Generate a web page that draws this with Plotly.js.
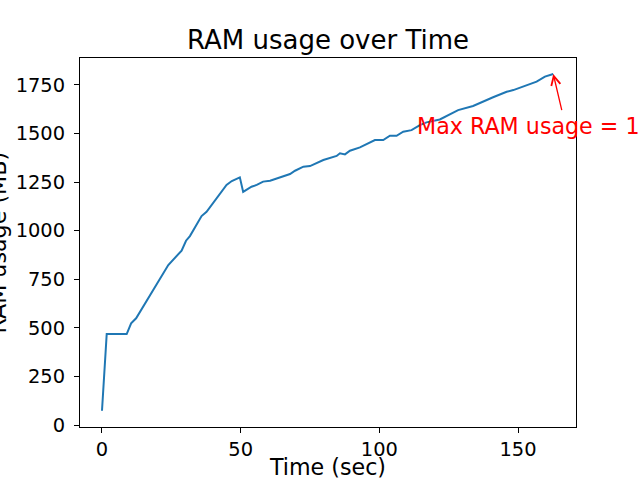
<!DOCTYPE html>
<html>
<head>
<meta charset="utf-8">
<script src="https://cdn.plot.ly/plotly-3.0.1.min.js"></script>
<style>html,body{margin:0;padding:0;background:#fff}#chart{width:640px;height:480px}</style>
</head>
<body>
<div id="chart"></div>
<script>
const timeSec = [0, 1.7, 8.9, 10.5, 12.3, 23.9, 28.7, 30.3, 31.7, 35.9, 37.7, 44.9, 46.8, 49.7, 50.9, 53.9, 55.8, 58.1, 60.6, 64.2, 67.8, 69.6, 72.6, 75, 79.8, 84.6, 85.8, 87.6, 89.4, 93, 96.6, 98.4, 101.4, 103.8, 106.2, 108.6, 111.6, 114.6, 117, 121.8, 128.4, 133.8, 141, 145.9, 148.3, 153.1, 156.7, 159.7, 162.7];
const ramMB = [73, 468, 468, 523, 549, 823, 897, 948, 972, 1075, 1097, 1235, 1255, 1274, 1199, 1226, 1235, 1252, 1257, 1274, 1291, 1308, 1329, 1332, 1363, 1384, 1398, 1392, 1411, 1428, 1452, 1466, 1466, 1488, 1488, 1509, 1517, 1543, 1557, 1572, 1620, 1641, 1686, 1714, 1723, 1749, 1766, 1792, 1806];
const xTicks = [0, 50, 100, 150];
const yTicks = [0, 250, 500, 750, 1000, 1250, 1500, 1750];
const maxLabel = "Max RAM usage = 1806.25 MB";
const labelPos = [112.8, 1539];
const arrowTail = [165.9, 1612];

const maxIdx = ramMB.indexOf(Math.max(...ramMB));
const font = "DejaVu Sans, sans-serif";

const axisCommon = {
  showline: true, mirror: true, linecolor: "black", linewidth: 1,
  ticks: "outside", ticklen: 5, tickwidth: 1, tickcolor: "black",
  showgrid: false, zeroline: false,
  tickfont: {family: font, size: 19.44, color: "black"}
};

Plotly.newPlot("chart", [{
  x: timeSec, y: ramMB, type: "scatter", mode: "lines",
  line: {color: "#1f77b4", width: 2}
}], {
  width: 640, height: 480,
  margin: {l: 80, r: 64, t: 58, b: 53},
  paper_bgcolor: "white", plot_bgcolor: "white",
  showlegend: false,
  title: {text: "RAM usage over Time", font: {family: font, size: 26, color: "black"}, x: 0.5125, xanchor: "center", y: 0.917, yanchor: "middle"},
  xaxis: Object.assign({}, axisCommon, {
    range: [-7.93, 170.9], tickvals: xTicks, ticktext: xTicks.map(String),
    title: {text: "Time (sec)", font: {family: font, size: 22.2, color: "black"}, standoff: 0}
  }),
  yaxis: Object.assign({}, axisCommon, {
    range: [-10.3, 1888], tickvals: yTicks, ticktext: yTicks.map(String),
    ticklabelstandoff: 5
  }),
  annotations: [
    {x: -0.1673, y: 0.5, xref: "paper", yref: "paper", text: "RAM usage (MB)", showarrow: false,
     textangle: -90, xanchor: "center", yanchor: "middle", font: {family: font, size: 22.2, color: "black"}},
    {x: labelPos[0], y: labelPos[1], xref: "x", yref: "y", text: maxLabel, showarrow: false,
     xanchor: "left", yanchor: "middle", font: {family: font, size: 22.2, color: "red"}},
    {x: timeSec[maxIdx], y: ramMB[maxIdx], xref: "x", yref: "y", axref: "x", ayref: "y",
     ax: arrowTail[0], ay: arrowTail[1], text: "", showarrow: true,
     arrowhead: 5, arrowsize: 1.4, arrowwidth: 1.3, arrowcolor: "red"}
  ]
}, {displayModeBar: false, staticPlot: true});
</script>
</body>
</html>
